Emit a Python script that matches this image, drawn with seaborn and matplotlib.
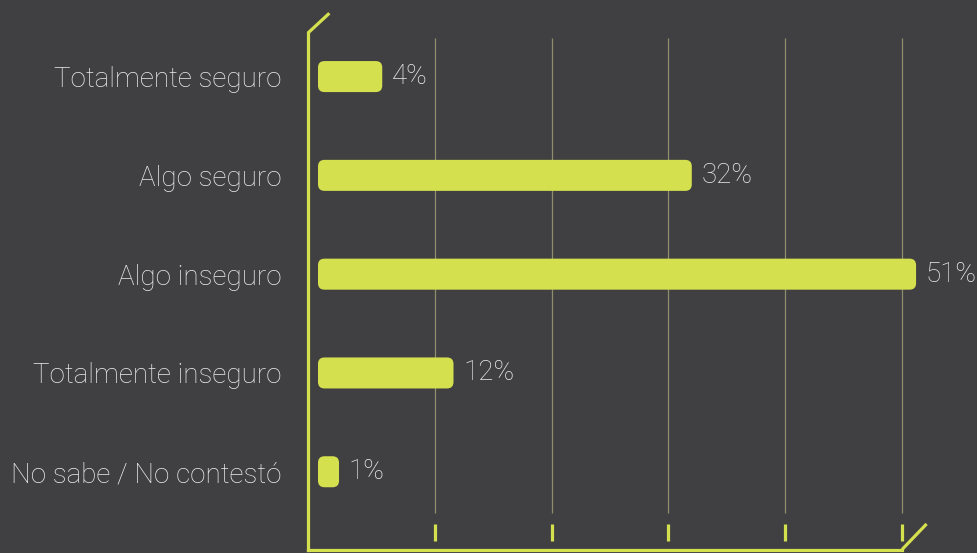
import numpy as np
import pandas as pd
import matplotlib
matplotlib.use('Agg')
import matplotlib.pyplot as plt
from matplotlib.patches import FancyBboxPatch
import seaborn as sns

# data
categories = ['Totalmente seguro', 'Algo seguro', 'Algo inseguro',
              'Totalmente inseguro', 'No sabe / No contestó']
bar_lengths = [5.5, 32, 51.2, 11.6, 1.8]   # drawn length (%), as measured
value_labels = ['4%', '32%', '51%', '12%', '1%']
grid_values = [10, 20, 30, 40, 50]

bg = '#404042'
lime = '#d5e04e'
txt = '#ebebeb'

sns.set_theme(style='white')
plt.rcParams['font.family'] = ['Roboto', 'DejaVu Sans']
plt.rcParams['font.weight'] = 'light'

df = pd.DataFrame({'cat': categories, 'val': bar_lengths})

fig = plt.figure(figsize=(9.78, 5.53), dpi=100, facecolor=bg)
ax = fig.add_axes([308 / 978, 1 - 549.5 / 553, 1 - 308 / 978, (549.5 - 33) / 553])
ax.set_facecolor(bg)

sns.barplot(ax=ax, data=df, x='val', y='cat', orient='h', color=lime,
            width=0.314, saturation=1)

ax.set_xlim(-0.856, 56.5)
ax.set_ylim(4.787, -0.441)

# label the bars before swapping them for rounded ones
ax.bar_label(ax.containers[0], labels=value_labels, padding=7, color=txt,
             fontsize=20, fontweight='light')

# rounded bars
fig.canvas.draw()
inv = ax.transData.inverted()
p0 = inv.transform((0, 0))
p1 = inv.transform((1, 1))
xpp = abs(p1[0] - p0[0])
ypp = abs(p1[1] - p0[1])
for rect in ax.patches[:]:
    x, y = rect.get_x(), rect.get_y()
    w, h = rect.get_width(), rect.get_height()
    fb = FancyBboxPatch((x, y), w, h,
                        boxstyle='round,pad=0,rounding_size=%f' % (6.5 * xpp),
                        mutation_aspect=ypp / xpp,
                        facecolor=lime, edgecolor='none', zorder=3)
    rect.set_visible(False)
    ax.add_patch(fb)

# thin grid lines and dashed marks on the bottom
ax.vlines(grid_values, -0.391, 4.414, color='#8e8e6c', linewidth=0.9, zorder=1)
ax.vlines(grid_values, 4.528, 4.70, color=lime, linewidth=2.3, zorder=1)

# axes with angled ends
for s in ['top', 'right']:
    ax.spines[s].set_visible(False)
for s in ['left', 'bottom']:
    ax.spines[s].set_color(lime)
    ax.spines[s].set_linewidth(2.3)
ax.spines['bottom'].set_bounds(-0.856, 50)
ax.plot([-0.856, 0.97], [-0.441, -0.641], color=lime, linewidth=2.3,
        clip_on=False, solid_capstyle='butt')
ax.plot([50, 52.1], [4.787, 4.528], color=lime, linewidth=2.3,
        clip_on=False, solid_capstyle='butt')

ax.set_xticks([])
ax.set_xlabel('')
ax.set_ylabel('')
ax.tick_params(axis='y', length=0, pad=19, labelsize=20, labelcolor=txt)
for t in ax.get_yticklabels():
    t.set_fontweight('light')

fig.savefig('out.png', dpi=100, facecolor=bg)
